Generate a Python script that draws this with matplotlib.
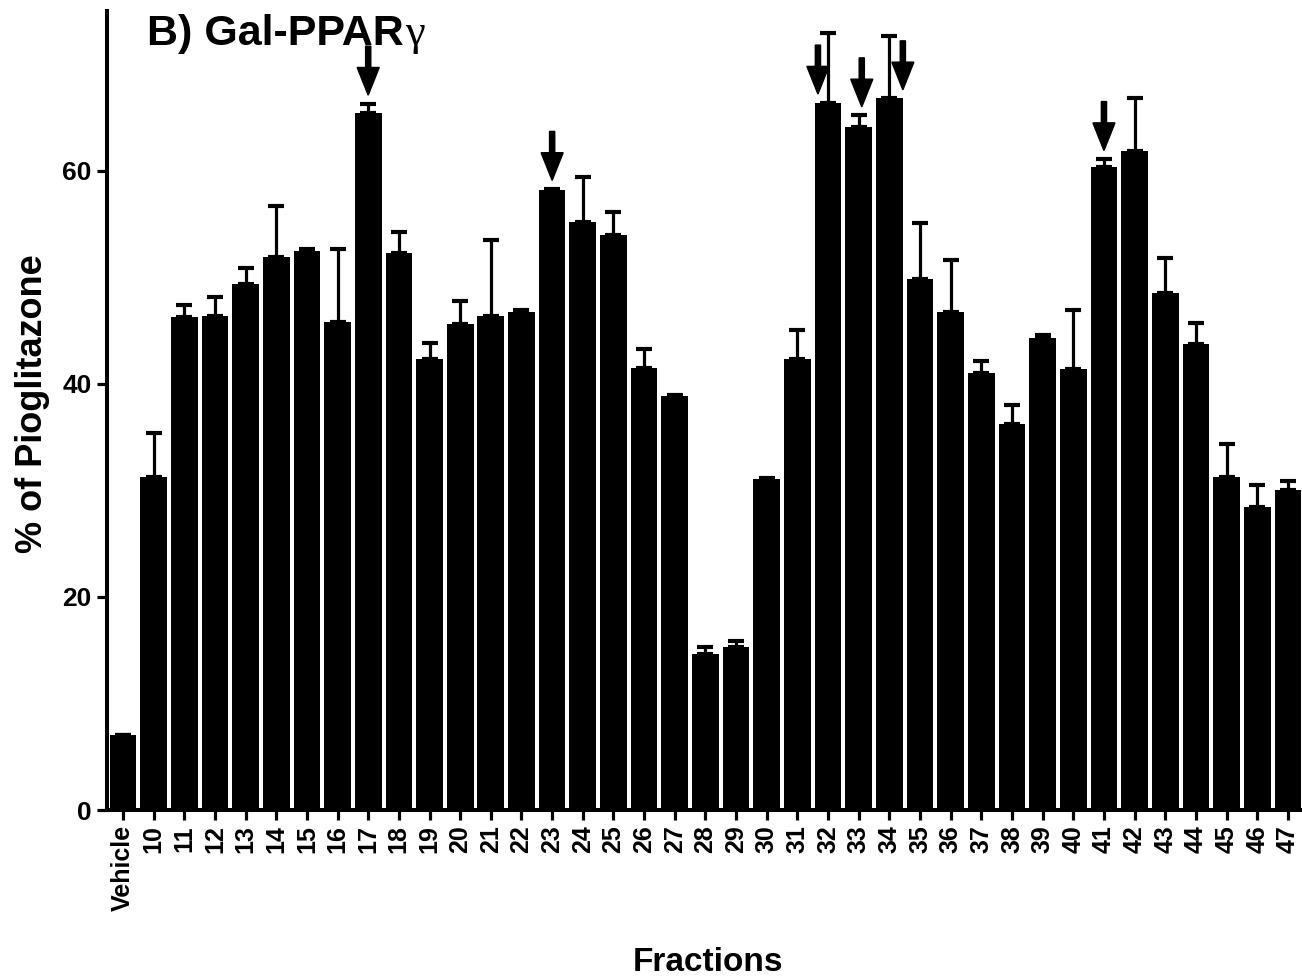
import matplotlib
matplotlib.use('Agg')
import matplotlib.pyplot as plt
import numpy as np

plt.rcParams['font.family'] = ['Liberation Sans', 'DejaVu Sans']
plt.rcParams['font.weight'] = 'bold'

# fractions on the x axis
fractions = ['Vehicle'] + [str(n) for n in range(10, 48)]

# % of pioglitazone (bar height) and upper SEM
values = [7.0, 31.3, 46.3, 46.4, 49.4, 51.9, 52.5, 45.8, 65.4, 52.3,
          42.3, 45.6, 46.4, 46.7, 58.2, 55.2, 54.0, 41.5, 38.9, 14.6,
          15.3, 31.1, 42.3, 66.4, 64.1, 66.8, 49.8, 46.7, 41.0, 36.2,
          44.3, 41.4, 60.4, 61.9, 48.5, 43.7, 31.3, 28.4, 30.0]
errors = [0.0, 4.1, 1.1, 1.8, 1.5, 4.8, 0.2, 6.9, 0.9, 2.0,
          1.5, 2.2, 7.1, 0.2, 0.1, 4.2, 2.1, 1.8, 0.1, 0.7,
          0.6, 0.1, 2.8, 6.5, 1.1, 5.9, 5.3, 4.9, 1.1, 1.8,
          0.3, 5.5, 0.7, 4.9, 3.3, 2.0, 3.1, 2.1, 0.9]

# fractions flagged with an arrow
arrow_fracs = ['17', '23', '32', '33', '34', '41']

yticks = [0, 20, 40, 60]

fig = plt.figure(figsize=(13.02, 9.8), dpi=100)
ax = fig.add_axes([107 / 1302, 1 - 810 / 980, 1 - 107 / 1302, 799 / 980])

x = np.arange(len(fractions))
ax.bar(x, values, width=0.87, color='black', linewidth=0, zorder=1)
ax.errorbar(x, values, yerr=[np.zeros(len(errors)), errors], fmt='none',
            ecolor='black', elinewidth=2.3, capsize=5.5, capthick=3, zorder=2)

# arrows: some sit beside a tall error bar instead of on top of it
side_shift = {'32': -0.33, '34': 0.44, '33': 0.1}
for f in arrow_fracs:
    i = fractions.index(f)
    dx = side_shift.get(f, 0.0)
    base = values[i] if abs(dx) > 0.3 else values[i] + errors[i]
    tip = base + 0.8
    ax.arrow(i + dx, tip + 4.6, 0, -4.6, width=0.17, head_width=0.72,
             head_length=2.6, length_includes_head=True,
             fc='black', ec='black', zorder=3)

ax.set_xlim(-0.52, len(fractions) - 0.54)
ax.set_ylim(0, 75)
ax.set_xticks(x)
ax.set_xticklabels(fractions, rotation=90, fontsize=18, fontweight='bold')
ax.set_yticks(yticks)
ax.set_yticklabels([str(t) for t in yticks], fontsize=19, fontweight='bold')

for s in ['top', 'right']:
    ax.spines[s].set_visible(False)
for s in ['left', 'bottom']:
    ax.spines[s].set_linewidth(2.9)
ax.tick_params(axis='both', length=7.5, width=2.3, pad=3.5)

fig.text(33 / 1302, 1 - 404 / 980, '% of Pioglitazone', rotation=90,
         ha='center', va='center', fontsize=26, fontweight='bold')
fig.text(708 / 1302, 1 - 971 / 980, 'Fractions', ha='center', va='baseline',
         fontsize=24, fontweight='bold')

t1 = ax.text(0.8, 71.8, 'B) Gal-PPAR', ha='left', va='baseline',
             fontsize=31, fontweight='bold')
fig.canvas.draw()
bb = t1.get_window_extent()
gx = ax.transData.inverted().transform((bb.x1 + 1, 0))[0]
ax.text(gx, 71.8, 'γ', ha='left', va='baseline', fontsize=32,
        family=['Liberation Serif', 'DejaVu Serif'], fontweight='normal')

fig.savefig('out.png', dpi=100)
